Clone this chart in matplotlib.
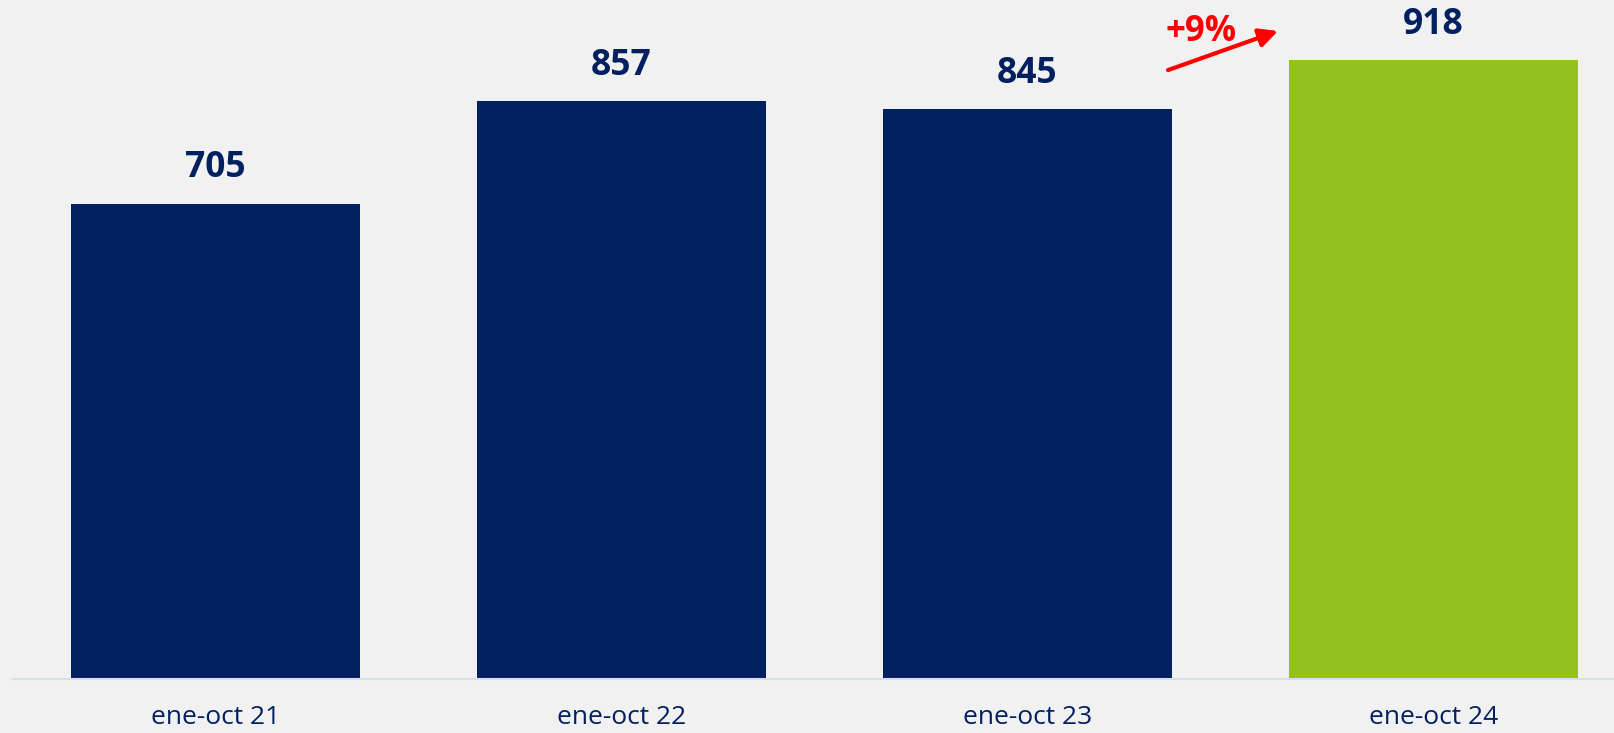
import matplotlib.pyplot as plt
import matplotlib

matplotlib.rcParams['font.family'] = ['Open Sans', 'DejaVu Sans']

# data
categories = ["ene-oct 21", "ene-oct 22", "ene-oct 23", "ene-oct 24"]
values = [705, 857, 845, 918]
bar_colors = ["#002060", "#002060", "#002060", "#95C11F"]

navy = "#002060"
bg = "#F1F1F1"

fig = plt.figure(figsize=(16.15, 7.33), dpi=100)
fig.patch.set_facecolor(bg)
ax = fig.add_axes([12.5 / 1615, 54 / 733, 1 - 12.5 / 1615, 679 / 733])
ax.set_facecolor(bg)

x = list(range(len(categories)))
ax.bar(x, values, width=0.712, color=bar_colors, zorder=2)

for xi, v in zip(x, values):
    ax.annotate(f"{v}", (xi, v), xytext=(0, 25.5), textcoords="offset points",
                ha="center", va="center", fontsize=25.5, fontweight="bold", color=navy)

# growth arrow between last two periods
growth = round((values[3] / values[2] - 1) * 100)
ax.annotate("", xy=(2.617, 961), xytext=(2.346, 903),
            arrowprops=dict(arrowstyle="-|>", color="red", lw=3, mutation_scale=28,
                            shrinkA=0, shrinkB=0))
ax.text(2.427, 960, f"+{growth}%", ha="center", va="center", fontsize=25,
        fontweight="bold", color="red")

ax.set_xlim(-0.5, (1615 - 215.5) / 406)
ax.set_ylim(0, 679 / (619 / 918))

ax.set_xticks(x)
ax.set_xticklabels(categories, fontsize=19, color=navy)
ax.tick_params(axis="x", length=0, pad=19)
ax.set_yticks([])
for side in ["top", "right", "left"]:
    ax.spines[side].set_visible(False)
ax.spines["bottom"].set_color("#D9DEE8")
ax.spines["bottom"].set_linewidth(1.5)

fig.savefig("out.png", dpi=100, facecolor=bg)
